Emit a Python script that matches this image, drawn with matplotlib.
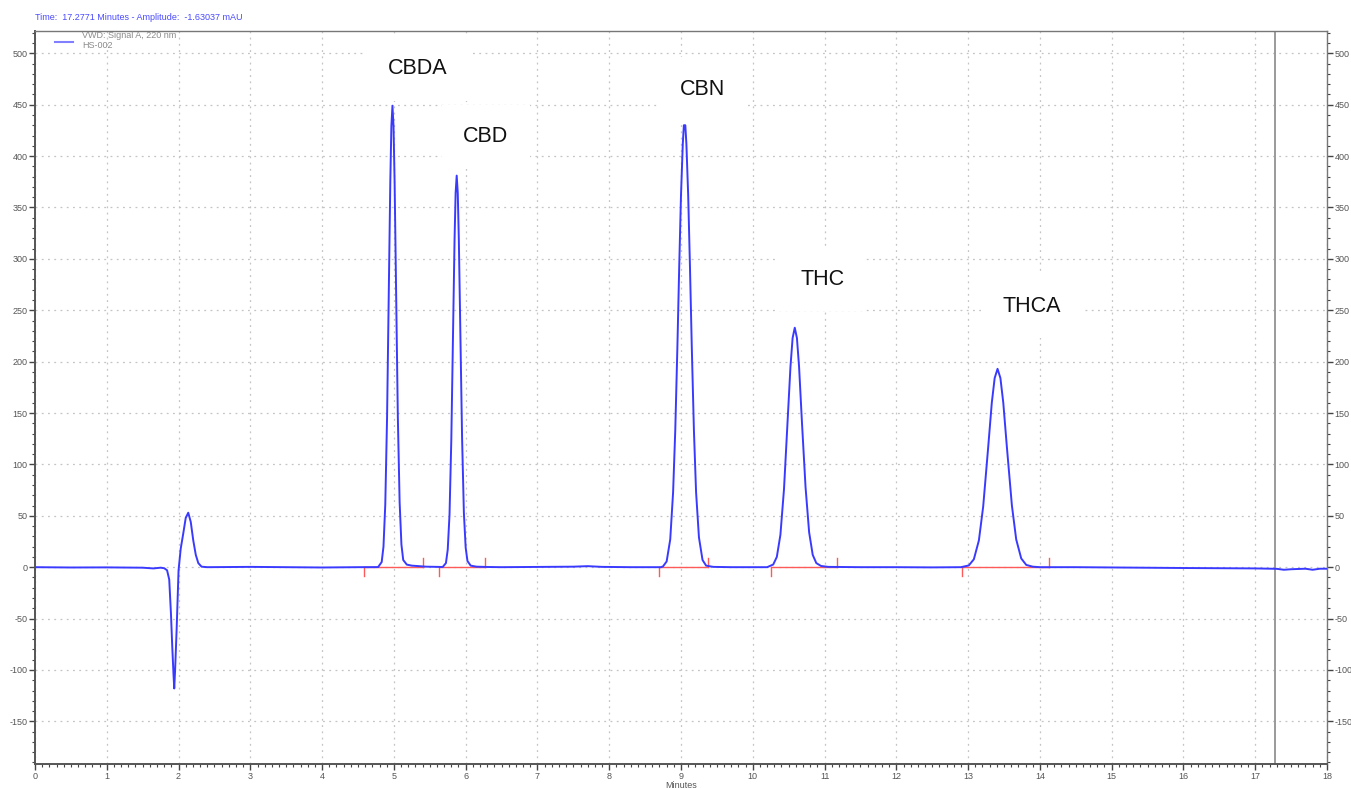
import matplotlib
matplotlib.use("Agg")
import matplotlib.pyplot as plt
from matplotlib.ticker import MultipleLocator
import numpy as np

plt.rcParams["axes.unicode_minus"] = False
plt.rcParams["font.family"] = ["Liberation Sans", "DejaVu Sans"]

# ---------------- data ----------------
baseline_start_t = [0.0, 0.5, 1.0, 1.5, 1.65, 1.7, 1.75, 1.8]
baseline_start_y = [0.0, -0.3, -0.2, -0.5, -1.2, -0.8, -0.5, -1.0]

solvent_t = [1.84, 1.87, 1.894, 1.912, 1.93, 1.94, 1.952, 1.973, 1.99, 2.00, 2.03,
             2.066, 2.10, 2.135, 2.17, 2.205, 2.24, 2.275, 2.32, 2.4, 3.0, 3.5, 4.0, 4.5, 4.7]
solvent_y = [-3, -12, -45, -77, -105, -118, -100, -61, -25, -3, 18,
             33, 48, 53, 44, 26, 12, 4, 0.5, 0, 0.3, 0, -0.3, 0, 0]

cbda_t = [4.75, 4.78, 4.83, 4.855, 4.88, 4.905, 4.93, 4.95, 4.965, 4.98, 4.995, 5.01,
          5.03, 5.055, 5.08, 5.105, 5.13, 5.18, 5.25, 5.35, 5.45, 5.6]
cbda_y = [0, 0.1, 5, 20, 61, 146, 272, 375, 429, 449, 429, 375,
          272, 146, 63, 22, 7, 2.5, 1.5, 1.0, 0.5, 0.3]

cbd_t = [5.68, 5.725, 5.75, 5.775, 5.80, 5.825, 5.845, 5.86, 5.875, 5.89, 5.905, 5.925,
         5.95, 5.975, 6.0, 6.025, 6.07, 6.15, 6.3, 6.5, 7.0, 7.5, 7.7, 7.9, 8.3, 8.6]
cbd_y = [0.2, 4, 17, 51, 124, 231, 318, 364, 381, 364, 318, 231,
         126, 53, 19, 6, 1.5, 0.5, 0.2, 0, 0.2, 0.5, 1.0, 0.3, 0, 0]

cbn_t = [8.72, 8.75, 8.80, 8.85, 8.89, 8.92, 8.95, 8.975, 9.0, 9.025, 9.04, 9.06,
         9.075, 9.10, 9.125, 9.15, 9.18, 9.21, 9.25, 9.30, 9.35, 9.45, 9.7, 10.0, 10.2]
cbn_y = [0, 0.8, 5.6, 27, 73, 133, 215, 292, 362, 412, 430, 430,
         412, 362, 292, 215, 133, 73, 29, 7, 1.5, 0.3, 0, 0, 0]

thc_t = [10.285, 10.335, 10.385, 10.435, 10.485, 10.525, 10.555, 10.585, 10.615, 10.645,
         10.685, 10.735, 10.785, 10.835, 10.885, 10.95, 11.05, 11.5, 12.0, 12.5, 12.9]
thc_y = [2.6, 10, 31.5, 76, 141, 195, 223, 233, 223, 195,
         141, 78, 34, 12, 4, 1.2, 0.3, 0, 0, -0.2, 0]

thca_t = [13.01, 13.08, 13.15, 13.21, 13.28, 13.33, 13.37, 13.41, 13.45, 13.49, 13.54,
          13.61, 13.67, 13.74, 13.81, 13.9, 14.0]
thca_y = [1.7, 7.7, 26, 59, 117, 160, 184, 193, 184, 160, 117,
          60, 27, 8.5, 2.2, 0.5, 0]

baseline_end_t = [14.5, 15.0, 15.5, 16.0, 16.5, 17.0, 17.3, 17.4, 17.5, 17.7, 17.8, 17.9, 18.0]
baseline_end_y = [0, -0.3, -0.5, -0.8, -1.0, -1.2, -1.6, -2.5, -2.0, -1.5, -2.5, -1.5, -1.5]

# integration baselines (start / end, minutes)
integ_start = [4.58, 5.63, 8.69, 10.25, 12.92]
integ_end = [5.40, 6.27, 9.37, 11.18, 14.12]

# peak labels
peak_names = ["CBDA", "CBD", "CBN", "THC", "THCA"]
label_t = [5.33, 6.28, 9.30, 10.97, 13.89]
label_y = [485, 419, 465, 280, 254]

cursor_t = 17.2771
x_ticks = list(range(0, 19))
y_ticks = list(range(-150, 501, 50))

# ---------------- figure ----------------
W, H = 1351, 788
fig = plt.figure(figsize=(W / 100, H / 100), dpi=100)
ax = fig.add_axes([35 / W, 1 - 764 / H, (1327 - 35) / W, (764 - 31) / H])

t = np.concatenate([baseline_start_t, solvent_t, cbda_t, cbd_t, cbn_t, thc_t, thca_t, baseline_end_t])
y = np.concatenate([baseline_start_y, solvent_y, cbda_y, cbd_y, cbn_y, thc_y, thca_y, baseline_end_y])

ax.set_xlim(0, 18)
ax.set_ylim(-191.5, 521.7)

# grid
ax.grid(True, which="major", color="#c4c4c4", linestyle=(0, (1.5, 3.5)), linewidth=0.9)
ax.set_axisbelow(True)

# integration marks
red = "#ff5a5a"
for s, e in zip(integ_start, integ_end):
    ax.plot([s, e], [0, 0], color=red, lw=1.0, zorder=2)
    ax.plot([s, s], [0, -9], color=red, lw=1.0, zorder=2)
    ax.plot([e, e], [0, 9], color=red, lw=1.0, zorder=2)

ax.plot(t, y, color="#3a3aff", lw=1.4, zorder=3)

# cursor line
ax.axvline(cursor_t, color="#9a9a9a", lw=1.4, zorder=1)

# labels
for name, lt, ly in zip(peak_names, label_t, label_y):
    ax.text(lt, ly, name, fontsize=15.5, color="#111111",
            ha="center", va="center", zorder=4,
            bbox=dict(boxstyle="square,pad=1.0", fc="white", ec="none"))

# ticks
ax.set_xticks(x_ticks)
ax.set_yticks(y_ticks)
ax.xaxis.set_minor_locator(MultipleLocator(0.1))
ax.yaxis.set_minor_locator(MultipleLocator(10))
ax.tick_params(axis="both", which="major", labelsize=6.5, labelcolor="#555555",
               color="#444444", length=4, width=1.0, pad=1.5)
ax.tick_params(axis="both", which="minor", color="#444444", length=2.5, width=0.8)
ax.tick_params(axis="y", which="both", left=True, right=True, labelleft=True, labelright=True)
ax.tick_params(axis="x", which="both", top=False, bottom=True)

for side in ["left", "bottom"]:
    ax.spines[side].set_color("#555555")
    ax.spines[side].set_linewidth(1.4)
for side in ["top", "right"]:
    ax.spines[side].set_color("#777777")
    ax.spines[side].set_linewidth(1.0)

ax.set_xlabel("Minutes", fontsize=6.5, color="#555555", labelpad=0.5)

# legend-like annotation
fig.add_artist(plt.Line2D([55 / W, 73 / W], [1 - 41.5 / H, 1 - 41.5 / H], color="#8080ff", lw=1.5))
fig.text(82 / W, 1 - 36 / H, "VWD: Signal A, 220 nm", fontsize=6.5, color="#8a8a8a", va="center")
fig.text(82 / W, 1 - 46 / H, "HS-002", fontsize=6.5, color="#8a8a8a", va="center")

# header
fig.text(35 / W, 1 - 17 / H, "Time:  17.2771 Minutes - Amplitude:  -1.63037 mAU",
         fontsize=6.5, color="#4a4aff", va="center")

fig.savefig("out.png", dpi=100)
